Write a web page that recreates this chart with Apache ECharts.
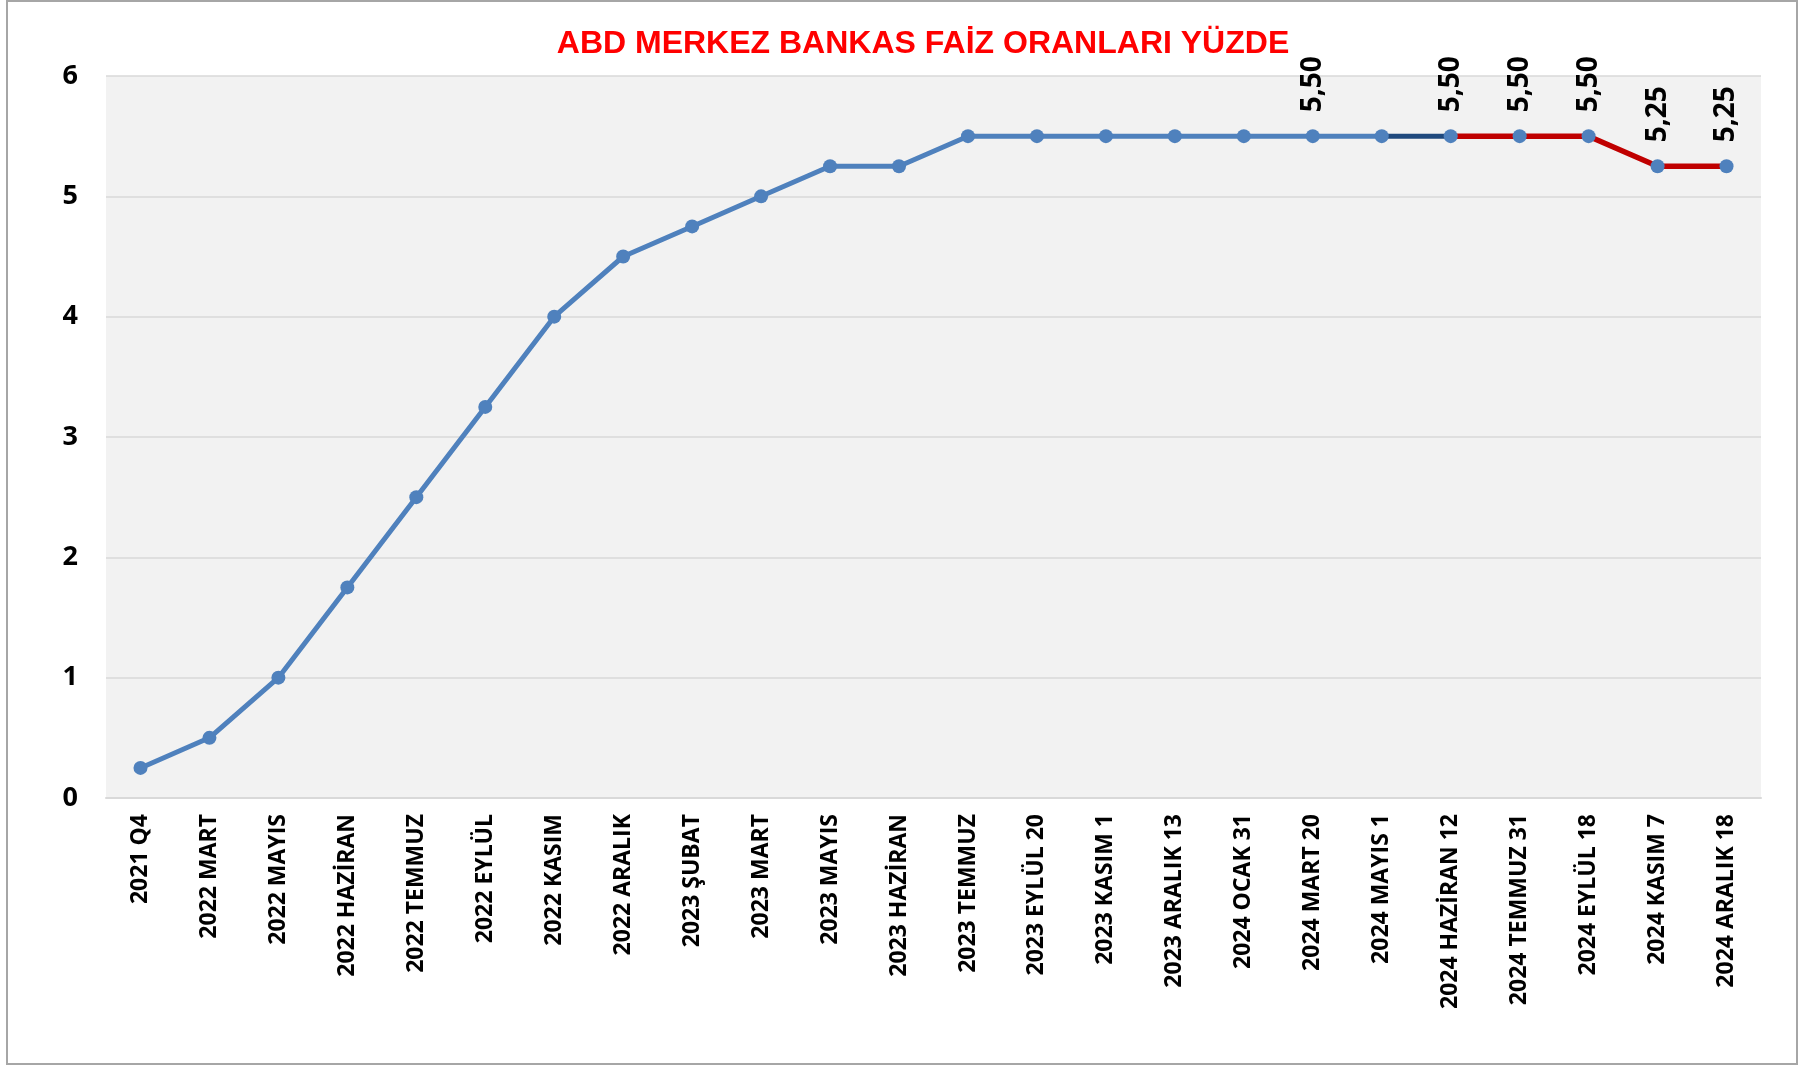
<html lang="tr">
<head>
  <meta charset="UTF-8">
  <title>ABD Merkez Bankası Faiz Oranları</title>
  <style>
    * { margin: 0; padding: 0; }
    body { background: #ffffff; }
    #main { width: 1810px; height: 1068px; }
  </style>
</head>
<body>
  <div id="main"></div>
  <script src="https://cdn.jsdelivr.net/npm/echarts@6/dist/echarts.min.js"></script>
  <script type="text/javascript">
  // dönemler
  var categories = [
    '2021 Q4', '2022 MART', '2022 MAYIS', '2022 HAZİRAN', '2022 TEMMUZ', '2022 EYLÜL',
    '2022 KASIM', '2022 ARALIK', '2023 ŞUBAT', '2023 MART', '2023 MAYIS', '2023 HAZİRAN',
    '2023 TEMMUZ', '2023 EYLÜL 20', '2023 KASIM 1', '2023 ARALIK 13', '2024 OCAK 31',
    '2024 MART 20', '2024 MAYIS 1', '2024 HAZİRAN 12', '2024 TEMMUZ 31', '2024 EYLÜL 18',
    '2024 KASIM 7', '2024 ARALIK 18'
  ];
  // faiz oranı (%)
  var rates = [
    0.25, 0.5, 1.0, 1.75, 2.5, 3.25,
    4.0, 4.5, 4.75, 5.0, 5.25, 5.25,
    5.5, 5.5, 5.5, 5.5, 5.5,
    5.5, 5.5, 5.5, 5.5, 5.5,
    5.25, 5.25
  ];
  // etiket gösterilen noktalar
  var labeled = ['2024 MART 20', '2024 HAZİRAN 12', '2024 TEMMUZ 31', '2024 EYLÜL 18', '2024 KASIM 7', '2024 ARALIK 18'];
  // çizgi renkleri hangi dönemden başlıyor
  var darkFrom = '2024 MAYIS 1';
  var redFrom = '2024 HAZİRAN 12';
  var yTicks = [0, 1, 2, 3, 4, 5, 6];

  var dIdx = categories.indexOf(darkFrom);
  var rIdx = categories.indexOf(redFrom);

  function part(a, b) {
    return rates.map(function (v, i) { return (i >= a && i <= b) ? v : null; });
  }

  var font = '"Open Sans", "DejaVu Sans", sans-serif';

  var myChart = echarts.init(document.getElementById('main'));
  var option = {
    backgroundColor: '#ffffff',
    animation: false,
    title: {
      text: 'ABD MERKEZ BANKAS FAİZ ORANLARI YÜZDE',
      left: 918,
      textAlign: 'center',
      top: 23,
      textStyle: {
        color: '#FF0000',
        fontFamily: '"Liberation Sans", Arial, sans-serif',
        fontWeight: 'bold',
        fontSize: 32
      }
    },
    graphic: [{
      type: 'rect',
      shape: { x: 7, y: 1, width: 1790, height: 1063 },
      style: { fill: 'none', stroke: '#A6A6A6', lineWidth: 2 },
      silent: true
    }],
    grid: {
      left: 106,
      right: 49,
      top: 76,
      bottom: 270,
      show: true,
      backgroundColor: '#F2F2F2',
      borderWidth: 0
    },
    xAxis: {
      type: 'category',
      data: categories,
      boundaryGap: true,
      axisLine: { lineStyle: { color: '#D9D9D9', width: 2 } },
      axisTick: { show: false },
      axisLabel: {
        rotate: 90,
        interval: 0,
        margin: 16,
        color: '#000000',
        fontFamily: font,
        fontWeight: 'bold',
        fontSize: 23
      }
    },
    yAxis: {
      type: 'value',
      min: yTicks[0],
      max: yTicks[yTicks.length - 1],
      interval: 1,
      axisLine: { show: false },
      axisTick: { show: false },
      splitLine: { lineStyle: { color: '#D9D9D9', width: 1.5 } },
      axisLabel: {
        margin: 28,
        color: '#000000',
        fontFamily: font,
        fontWeight: 'bold',
        fontSize: 27
      }
    },
    series: [
      {
        name: 'mavi',
        type: 'line',
        data: part(0, dIdx),
        symbol: 'none',
        lineStyle: { color: '#4F81BD', width: 5 },
        z: 2
      },
      {
        name: 'lacivert',
        type: 'line',
        data: part(dIdx, rIdx),
        symbol: 'none',
        lineStyle: { color: '#1F497D', width: 5 },
        z: 2
      },
      {
        name: 'kırmızı',
        type: 'line',
        data: part(rIdx, rates.length - 1),
        symbol: 'none',
        lineStyle: { color: '#C00000', width: 5.5 },
        z: 2
      },
      {
        name: 'noktalar',
        type: 'line',
        data: rates.map(function (v, i) {
          return {
            value: v,
            label: { show: labeled.indexOf(categories[i]) !== -1 }
          };
        }),
        symbol: 'circle',
        symbolSize: 14,
        itemStyle: { color: '#4F81BD' },
        lineStyle: { width: 0, opacity: 0 },
        label: {
          position: 'top',
          rotate: 90,
          align: 'left',
          verticalAlign: 'middle',
          distance: 17,
          color: '#000000',
          fontFamily: font,
          fontWeight: 'bold',
          fontSize: 28,
          formatter: function (p) { return p.value.toFixed(2).replace('.', ','); }
        },
        z: 3
      }
    ]
  };
  myChart.setOption(option);
  </script>
</body>
</html>
